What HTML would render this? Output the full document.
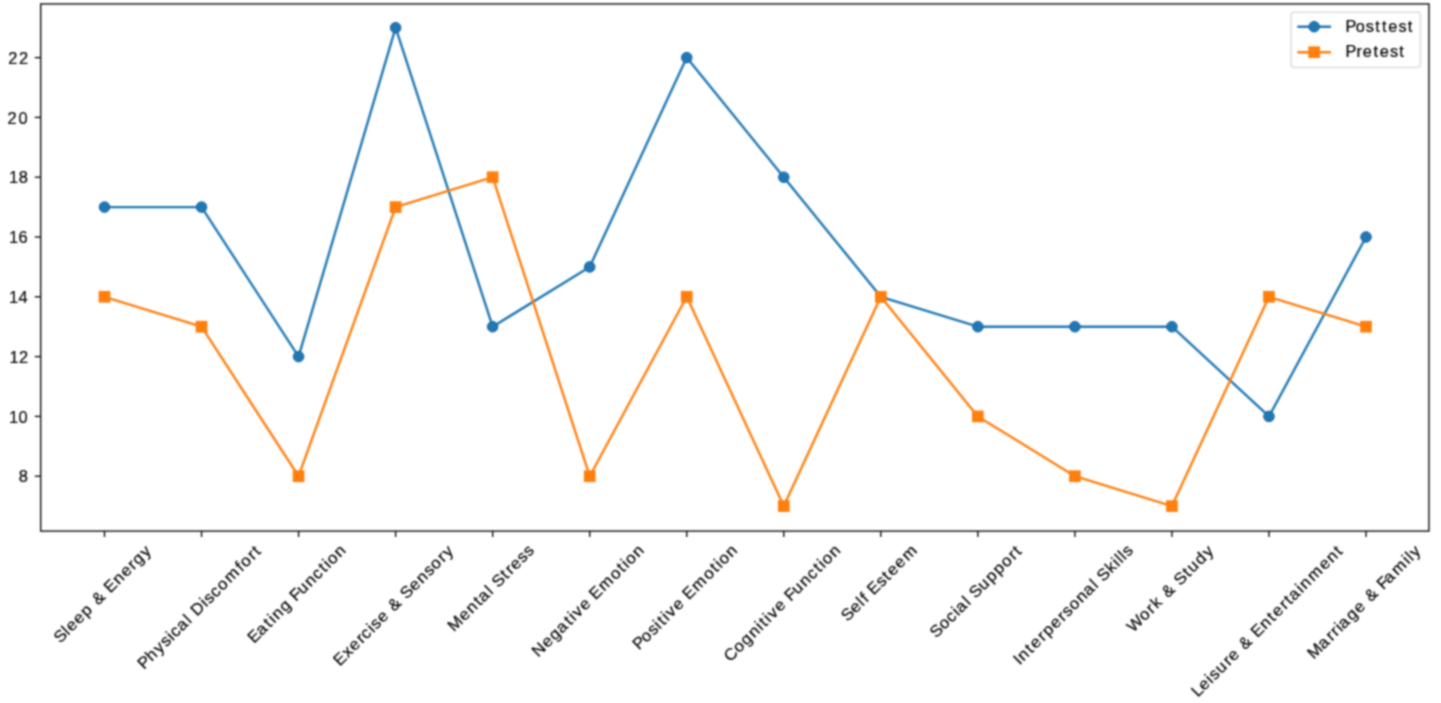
<!DOCTYPE html><html><head><meta charset="utf-8"><style>html,body{margin:0;padding:0;background:#fff;overflow:hidden;}svg{display:block;}text{font-family:"Liberation Sans",sans-serif;font-size:17.0px;fill:#000;stroke:#000;stroke-width:0.2px;}</style></head><body>
<svg width="1441" height="703" viewBox="0 0 1441 703">
<defs><filter id="bl" x="0" y="0" width="1441" height="703" filterUnits="userSpaceOnUse" color-interpolation-filters="sRGB"><feConvolveMatrix order="5" kernelMatrix="0.00142 0.00904 0.01675 0.00904 0.00142 0.00904 0.05757 0.10673 0.05757 0.00904 0.01675 0.10673 0.19786 0.10673 0.01675 0.00904 0.05757 0.10673 0.05757 0.00904 0.00142 0.00904 0.01675 0.00904 0.00142" edgeMode="duplicate"/></filter></defs>
<rect width="1441" height="703" fill="#fff"/><g filter="url(#bl)"><rect width="1441" height="703" fill="#fff"/>
<polyline points="104.50,207.10 201.54,207.10 298.58,356.60 395.62,27.70 492.66,326.70 589.70,266.90 686.74,57.60 783.78,177.20 880.82,296.80 977.86,326.70 1074.90,326.70 1171.94,326.70 1268.98,416.40 1366.02,237.00" fill="none" stroke="#1f77b4" stroke-width="2.4" stroke-linejoin="round"/>
<circle cx="104.50" cy="207.10" r="5.30" fill="#1f77b4" stroke="#1a67a0" stroke-width="1"/>
<circle cx="201.54" cy="207.10" r="5.30" fill="#1f77b4" stroke="#1a67a0" stroke-width="1"/>
<circle cx="298.58" cy="356.60" r="5.30" fill="#1f77b4" stroke="#1a67a0" stroke-width="1"/>
<circle cx="395.62" cy="27.70" r="5.30" fill="#1f77b4" stroke="#1a67a0" stroke-width="1"/>
<circle cx="492.66" cy="326.70" r="5.30" fill="#1f77b4" stroke="#1a67a0" stroke-width="1"/>
<circle cx="589.70" cy="266.90" r="5.30" fill="#1f77b4" stroke="#1a67a0" stroke-width="1"/>
<circle cx="686.74" cy="57.60" r="5.30" fill="#1f77b4" stroke="#1a67a0" stroke-width="1"/>
<circle cx="783.78" cy="177.20" r="5.30" fill="#1f77b4" stroke="#1a67a0" stroke-width="1"/>
<circle cx="880.82" cy="296.80" r="5.30" fill="#1f77b4" stroke="#1a67a0" stroke-width="1"/>
<circle cx="977.86" cy="326.70" r="5.30" fill="#1f77b4" stroke="#1a67a0" stroke-width="1"/>
<circle cx="1074.90" cy="326.70" r="5.30" fill="#1f77b4" stroke="#1a67a0" stroke-width="1"/>
<circle cx="1171.94" cy="326.70" r="5.30" fill="#1f77b4" stroke="#1a67a0" stroke-width="1"/>
<circle cx="1268.98" cy="416.40" r="5.30" fill="#1f77b4" stroke="#1a67a0" stroke-width="1"/>
<circle cx="1366.02" cy="237.00" r="5.30" fill="#1f77b4" stroke="#1a67a0" stroke-width="1"/>
<polyline points="104.50,296.80 201.54,326.70 298.58,476.20 395.62,207.10 492.66,177.20 589.70,476.20 686.74,296.80 783.78,506.10 880.82,296.80 977.86,416.40 1074.90,476.20 1171.94,506.10 1268.98,296.80 1366.02,326.70" fill="none" stroke="#ff7f0e" stroke-width="2.4" stroke-linejoin="round"/>
<rect x="98.65" y="290.95" width="11.70" height="11.70" fill="#ff7f0e"/>
<rect x="195.69" y="320.85" width="11.70" height="11.70" fill="#ff7f0e"/>
<rect x="292.73" y="470.35" width="11.70" height="11.70" fill="#ff7f0e"/>
<rect x="389.77" y="201.25" width="11.70" height="11.70" fill="#ff7f0e"/>
<rect x="486.81" y="171.35" width="11.70" height="11.70" fill="#ff7f0e"/>
<rect x="583.85" y="470.35" width="11.70" height="11.70" fill="#ff7f0e"/>
<rect x="680.89" y="290.95" width="11.70" height="11.70" fill="#ff7f0e"/>
<rect x="777.93" y="500.25" width="11.70" height="11.70" fill="#ff7f0e"/>
<rect x="874.97" y="290.95" width="11.70" height="11.70" fill="#ff7f0e"/>
<rect x="972.01" y="410.55" width="11.70" height="11.70" fill="#ff7f0e"/>
<rect x="1069.05" y="470.35" width="11.70" height="11.70" fill="#ff7f0e"/>
<rect x="1166.09" y="500.25" width="11.70" height="11.70" fill="#ff7f0e"/>
<rect x="1263.13" y="290.95" width="11.70" height="11.70" fill="#ff7f0e"/>
<rect x="1360.17" y="320.85" width="11.70" height="11.70" fill="#ff7f0e"/>
<rect x="40.70" y="3.93" width="1388.25" height="527.17" fill="none" stroke="#000" stroke-width="1.33"/>
<line x1="34.80" y1="476.20" x2="40.70" y2="476.20" stroke="#000" stroke-width="1.33"/>
<g transform="translate(19.20,482.43)"><text transform="scale(0.9550,1)" x="-0.59" style="font-size:17.2px">8</text></g>
<line x1="34.80" y1="416.40" x2="40.70" y2="416.40" stroke="#000" stroke-width="1.33"/>
<g transform="translate(9.07,422.63)"><text transform="scale(0.9550,1)" x="-0.02 9.99" style="font-size:17.2px">10</text></g>
<line x1="34.80" y1="356.60" x2="40.70" y2="356.60" stroke="#000" stroke-width="1.33"/>
<g transform="translate(9.62,362.83)"><text transform="scale(0.9550,1)" x="-0.02 9.75" style="font-size:17.2px">12</text></g>
<line x1="34.80" y1="296.80" x2="40.70" y2="296.80" stroke="#000" stroke-width="1.33"/>
<g transform="translate(8.90,303.03)"><text transform="scale(0.9550,1)" x="-0.02 9.98" style="font-size:17.2px">14</text></g>
<line x1="34.80" y1="237.00" x2="40.70" y2="237.00" stroke="#000" stroke-width="1.33"/>
<g transform="translate(9.01,243.23)"><text transform="scale(0.9550,1)" x="-0.02 9.99" style="font-size:17.2px">16</text></g>
<line x1="34.80" y1="177.20" x2="40.70" y2="177.20" stroke="#000" stroke-width="1.33"/>
<g transform="translate(9.10,183.43)"><text transform="scale(0.9550,1)" x="-0.02 9.99" style="font-size:17.2px">18</text></g>
<line x1="34.80" y1="117.40" x2="40.70" y2="117.40" stroke="#000" stroke-width="1.33"/>
<g transform="translate(8.46,123.63)"><text transform="scale(0.9550,1)" x="-0.91 10.62" style="font-size:17.2px">20</text></g>
<line x1="34.80" y1="57.60" x2="40.70" y2="57.60" stroke="#000" stroke-width="1.33"/>
<g transform="translate(9.01,63.83)"><text transform="scale(0.9550,1)" x="-0.91 10.39" style="font-size:17.2px">22</text></g>
<line x1="104.50" y1="531.10" x2="104.50" y2="537.00" stroke="#000" stroke-width="1.33"/>
<g transform="translate(61.29,642.71) rotate(-45)"><text transform="scale(1.0370,1)" x="-1.46 9.53 14.15 24.20 34.50 44.43 50.35 62.37 66.94 78.25 88.46 98.96 104.96 115.55" style="font-size:16.25px">Sleep &amp; Energy</text></g>
<line x1="201.54" y1="531.10" x2="201.54" y2="537.00" stroke="#000" stroke-width="1.33"/>
<g transform="translate(145.49,668.40) rotate(-45)"><text transform="scale(1.0370,1)" x="-2.03 8.71 19.17 28.38 37.06 41.37 50.01 60.59 65.01 70.33 82.93 87.30 95.75 104.98 115.73 131.25 136.66 147.17 153.80" style="font-size:16.25px">Physical Discomfort</text></g>
<line x1="298.58" y1="531.10" x2="298.58" y2="537.00" stroke="#000" stroke-width="1.33"/>
<g transform="translate(255.52,642.42) rotate(-45)"><text transform="scale(1.0370,1)" x="-2.11 8.40 19.43 25.41 30.17 40.39 50.55 55.13 64.54 74.97 84.88 94.53 100.50 105.05 115.27" style="font-size:16.25px">Eating Function</text></g>
<line x1="395.62" y1="531.10" x2="395.62" y2="537.00" stroke="#000" stroke-width="1.33"/>
<g transform="translate(341.20,665.13) rotate(-45)"><text transform="scale(1.0370,1)" x="-2.11 9.25 18.22 28.73 34.34 43.56 47.93 56.68 66.54 72.45 84.48 89.19 100.25 110.46 120.43 129.12 139.63 146.13" style="font-size:16.25px">Exercise &amp; Sensory</text></g>
<line x1="492.66" y1="531.10" x2="492.66" y2="537.00" stroke="#000" stroke-width="1.33"/>
<g transform="translate(455.21,631.19) rotate(-45)"><text transform="scale(1.0370,1)" x="-1.62 12.73 22.95 33.52 38.91 49.50 53.92 58.63 70.05 76.55 82.46 92.28 100.79" style="font-size:16.25px">Mental Stress</text></g>
<line x1="589.70" y1="531.10" x2="589.70" y2="537.00" stroke="#000" stroke-width="1.33"/>
<g transform="translate(539.55,656.59) rotate(-45)"><text transform="scale(1.0370,1)" x="-1.62 10.91 20.99 30.69 41.73 47.70 52.54 61.98 71.84 76.40 88.26 103.43 113.85 119.83 124.38 134.59" style="font-size:16.25px">Negative Emotion</text></g>
<line x1="686.74" y1="531.10" x2="686.74" y2="537.00" stroke="#000" stroke-width="1.33"/>
<g transform="translate(640.37,649.03) rotate(-45)"><text transform="scale(1.0370,1)" x="-2.03 7.94 17.76 26.44 31.42 37.39 42.24 51.68 61.53 66.09 77.95 93.12 103.54 109.52 114.07 124.28" style="font-size:16.25px">Positive Emotion</text></g>
<line x1="783.78" y1="531.10" x2="783.78" y2="537.00" stroke="#000" stroke-width="1.33"/>
<g transform="translate(731.19,661.47) rotate(-45)"><text transform="scale(1.0370,1)" x="-1.44 10.71 20.79 31.30 41.43 46.41 52.38 57.23 66.67 76.52 81.10 90.51 100.94 110.85 120.50 126.47 131.03 141.24" style="font-size:16.25px">Cognitive Function</text></g>
<line x1="880.82" y1="531.10" x2="880.82" y2="537.00" stroke="#000" stroke-width="1.33"/>
<g transform="translate(848.46,621.02) rotate(-45)"><text transform="scale(1.0370,1)" x="-1.46 9.60 19.58 24.50 29.76 34.32 45.24 54.36 60.40 70.46 81.21" style="font-size:16.25px">Self Esteem</text></g>
<line x1="977.86" y1="531.10" x2="977.86" y2="537.00" stroke="#000" stroke-width="1.33"/>
<g transform="translate(937.33,637.35) rotate(-45)"><text transform="scale(1.0370,1)" x="-1.46 9.55 19.31 28.52 32.48 43.07 47.49 52.20 63.34 73.86 84.24 94.32 104.82 111.46" style="font-size:16.25px">Social Support</text></g>
<line x1="1074.90" y1="531.10" x2="1074.90" y2="537.00" stroke="#000" stroke-width="1.33"/>
<g transform="translate(1020.78,664.53) rotate(-45)"><text transform="scale(1.0370,1)" x="-1.50 3.87 14.44 20.48 30.99 37.50 47.63 58.14 64.17 72.87 83.08 92.64 103.22 107.64 112.35 123.70 132.81 137.34 141.88 146.27" style="font-size:16.25px">Interpersonal Skills</text></g>
<line x1="1171.94" y1="531.10" x2="1171.94" y2="537.00" stroke="#000" stroke-width="1.33"/>
<g transform="translate(1133.75,632.66) rotate(-45)"><text transform="scale(1.0370,1)" x="-0.56 14.72 25.23 31.79 40.76 46.68 58.71 63.42 74.84 80.97 91.27 101.85" style="font-size:16.25px">Work &amp; Study</text></g>
<line x1="1268.98" y1="531.10" x2="1268.98" y2="537.00" stroke="#000" stroke-width="1.33"/>
<g transform="translate(1198.75,696.76) rotate(-45)"><text transform="scale(1.0370,1)" x="-1.42 7.55 17.54 21.91 30.75 41.47 47.38 57.24 63.15 75.18 79.74 91.06 101.63 107.67 118.18 124.81 130.21 140.80 145.57 156.47 171.69 181.91 192.48" style="font-size:16.25px">Leisure &amp; Entertainment</text></g>
<line x1="1366.02" y1="531.10" x2="1366.02" y2="537.00" stroke="#000" stroke-width="1.33"/>
<g transform="translate(1314.88,658.57) rotate(-45)"><text transform="scale(1.0370,1)" x="-1.62 12.09 23.20 29.63 35.84 39.80 50.48 60.84 70.69 76.60 88.63 93.21 101.28 112.64 127.80 132.33 137.18" style="font-size:16.25px">Marriage &amp; Family</text></g>
<rect x="1291.0" y="12.3" width="129.5" height="55.2" rx="3.3" ry="3.3" fill="#fff" fill-opacity="0.8" stroke="#dedede" stroke-width="1.6"/>
<line x1="1297.3" y1="26.7" x2="1331.0" y2="26.7" stroke="#1f77b4" stroke-width="2.4"/>
<circle cx="1314.15" cy="26.7" r="5.3" fill="#1f77b4" stroke="#1a67a0" stroke-width="1"/>
<g transform="translate(1347.30,32.10)"><text transform="scale(0.9950,1)" x="-1.93 8.42 18.64 28.09 34.77 41.14 51.36 60.80" style="font-size:16.4px">Posttest</text></g>
<line x1="1297.3" y1="52.2" x2="1331.0" y2="52.2" stroke="#ff7f0e" stroke-width="2.4"/>
<rect x="1308.30" y="46.35" width="11.7" height="11.7" fill="#ff7f0e"/>
<g transform="translate(1347.30,56.80)"><text transform="scale(0.9950,1)" x="-1.93 9.21 15.42 26.21 32.58 42.80 52.24" style="font-size:16.4px">Pretest</text></g>
</g></svg></body></html>
